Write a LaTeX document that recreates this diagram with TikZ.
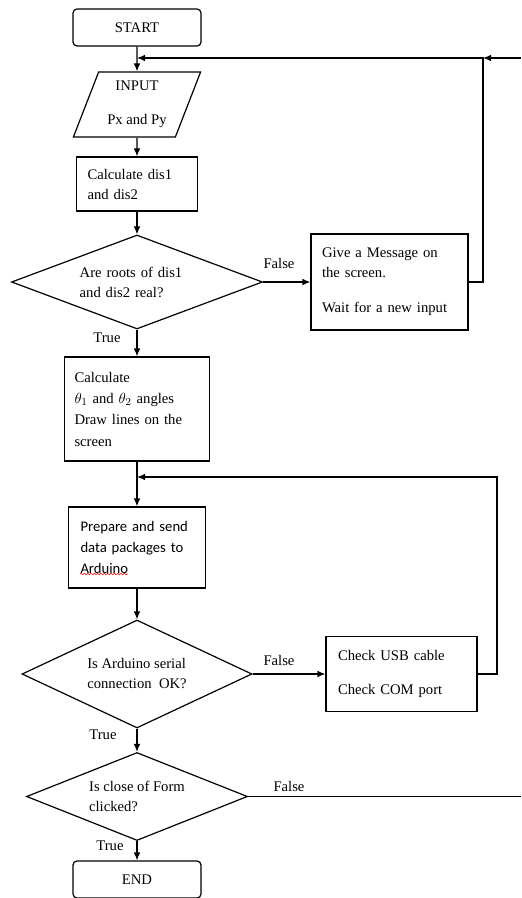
\documentclass[tikz,border=0pt]{standalone}
\usepackage{fontspec}
\setmainfont{Liberation Serif}
\newfontfamily\carlito{Carlito}
\usetikzlibrary{shapes.geometric,arrows.meta,decorations.pathmorphing}

\begin{document}
\begin{tikzpicture}[x=0.75pt, y=-0.75pt, >={Latex[length=6pt,width=5pt]},
    font=\fontsize{11pt}{15pt}\selectfont]
    \useasboundingbox (0,0) rectangle (521,898);

    \begin{scope}[every node/.style={draw, line width=0.9pt, rounded corners=3pt, minimum width=96pt, minimum height=27.75pt}]
        \node (start) at (137,27.5) {START};
        \node (end) at (137,879.5) {END};
    \end{scope}

    \node[draw, line width=0.9pt, trapezium, trapezium left angle=68, trapezium right angle=112,
          trapezium stretches=true, minimum width=96pt, minimum height=48.75pt, align=center]
          (input) at (137,104.5) {INPUT\\[10.5pt]Px and Py};

    \begin{scope}[every node/.style={draw, line width=0.9pt, rectangle, inner sep=0pt, align=left}]
        \node[minimum width=90.75pt, minimum height=40.5pt, text width=74.25pt] (dis) at (137,184) {Calculate dis1\\and dis2};
        \node[minimum width=117.75pt, minimum height=72pt, text width=101.25pt] (msg) at (389.5,282) {Give a Message on\\the screen.\\[11pt]Wait for a new input};
        \node[minimum width=108.75pt, minimum height=78pt, text width=93.75pt,
              font=\fontsize{11pt}{16pt}\selectfont] (thetas) at (137,409) {Calculate\\$\theta_1$ and $\theta_2$ angles\\Draw lines on the\\screen};
        \node[minimum width=102.75pt, minimum height=60.75pt, text width=84.75pt,
              font=\carlito\fontsize{11pt}{16pt}\selectfont] (prep) at (137,547.5) {Prepare and send\\data packages to\\Arduino};
        \node[minimum width=113.25pt, minimum height=56.25pt, text width=95.25pt] (check) at (401.5,674) {Check USB cable\\[10.5pt]Check COM port};
    \end{scope}

    \begin{scope}[every node/.style={draw, line width=0.9pt, diamond, aspect=2.5, inner sep=0pt, align=left}]
        \node[minimum width=188.25pt, minimum height=70.5pt, text width=86pt] (roots) at (137,282) {Are roots of dis1\\and dis2 real?};
        \node[minimum width=172.5pt, minimum height=81pt] (serial) at (137,674) {Is Arduino serial\\connection\ \ OK?};
        \node[minimum width=165.75pt, minimum height=66pt] (close) at (137,796.5) {Is close of Form\\clicked?};
    \end{scope}

    \coordinate (joinA) at (137,58);
    \coordinate (turnA) at (483,58);
    \coordinate (entryR) at (521,58);
    \coordinate (joinB) at (137,477);
    \coordinate (turnB) at (497,477);
    \coordinate (exitR) at (521,796.5);

    \begin{scope}[every edge/.style={draw, line width=0.9pt}]
        \path [->] (start) edge (input);
        \path [->] (input) edge (dis);
        \path [->] (dis) edge (roots);
        \path [->] (roots) edge (msg);
        \path [->] (roots) edge (thetas);
        \path [->] (thetas) edge (prep);
        \path [->] (prep) edge (serial);
        \path [->] (serial) edge (check);
        \path [->] (serial) edge (close);
        \path [->] (close) edge (end);
        \path [-] (close) edge (exitR);
        \path [->] (entryR) edge (turnA);
    \end{scope}

    \draw [->, line width=0.9pt] (msg.east) -| (turnA) -- (joinA);
    \draw [->, line width=0.9pt] (check.east) -| (turnB) -- (joinB);

    % spell check underline
    \draw [red, line width=0.4pt, decorate, decoration={snake, segment length=2.5pt, amplitude=0.6pt}] (80,574) -- (128,574);

    \begin{scope}[every node/.style={inner sep=0pt}]
        \node (false1) at (279,263) {False};
        \node (true1) at (107,338) {True};
        \node (false2) at (279,660) {False};
        \node (true2) at (103,735) {True};
        \node (false3) at (289,786) {False};
        \node (true3) at (110,846) {True};
    \end{scope}
\end{tikzpicture}
\end{document}
